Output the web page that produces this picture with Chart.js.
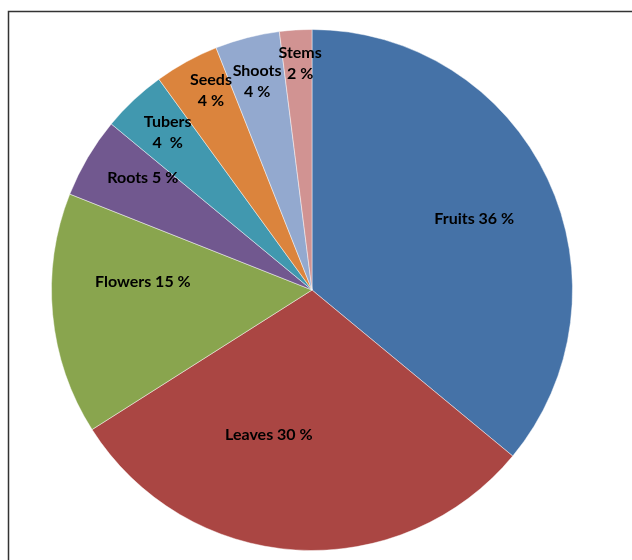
<!DOCTYPE html>
<html>
<head>
<meta charset="utf-8">
<script src="https://cdn.jsdelivr.net/npm/chart.js@4"></script>
<style>
  html, body { margin: 0; padding: 0; background: #fff; }
  #wrap { width: 632px; height: 560px; position: relative; }
</style>
</head>
<body>
<div id="wrap"><canvas id="myChart" width="632" height="560"></canvas></div>
<script>
const parts = ['Fruits', 'Leaves', 'Flowers', 'Roots', 'Tubers', 'Seeds', 'Shoots', 'Stems'];
const shares = [36, 30, 15, 5, 4, 4, 4, 2];
const sliceColors = ['#4572A7', '#AA4643', '#89A54E', '#71588F', '#4198AF', '#DB843D', '#93A9CF', '#D19392'];

// where each label sits: fraction of the radius, shift from the slice middle (degrees), two lines or one
const labelPlace = [
  [0.68, 1.5, false],
  [0.58, 13, false],
  [0.65, 8, false],
  [0.78, 3, false],
  [0.82, 0.7, true],
  [0.86, 2, true],
  [0.83, -0.3, true],
  [0.87, 0.6, true]
];

const frame = {
  id: 'frame',
  beforeDraw(chart) {
    const c = chart.ctx;
    c.save();
    c.strokeStyle = '#333';
    c.lineWidth = 1.5;
    c.strokeRect(8.5, 11.5, 700, 700);
    c.restore();
  }
};

const sliceLabels = {
  id: 'sliceLabels',
  afterDatasetsDraw(chart) {
    const c = chart.ctx;
    const arcs = chart.getDatasetMeta(0).data;
    c.save();
    c.font = 'bold 16px Lato, "Open Sans", sans-serif';
    c.fillStyle = '#000';
    c.textAlign = 'center';
    c.textBaseline = 'middle';
    arcs.forEach((arc, i) => {
      const p = arc.getProps(['x', 'y', 'startAngle', 'endAngle', 'outerRadius'], true);
      const [frac, shift, twoLines] = labelPlace[i];
      const mid = (p.startAngle + p.endAngle) / 2 + shift * Math.PI / 180;
      const r = p.outerRadius * frac;
      const x = p.x + Math.cos(mid) * r;
      const y = p.y + Math.sin(mid) * r;
      const pct = shares[i] + ' %';
      if (twoLines) {
        c.fillText(parts[i], x, y - 10.5);
        c.fillText(parts[i] === 'Tubers' ? shares[i] + '  %' : pct, x, y + 10.5);
      } else {
        c.fillText(parts[i] + ' ' + pct, x, y);
      }
    });
    c.restore();
  }
};

const data = {
  labels: parts,
  datasets: [{
    data: shares,
    backgroundColor: sliceColors,
    borderColor: 'rgba(255,255,255,0.45)',
    borderWidth: 1,
    hoverOffset: 0
  }]
};

const config = {
  type: 'pie',
  data: data,
  options: {
    responsive: false,
    animation: false,
    layout: { padding: { top: 29, bottom: 9, left: 0, right: 8 } },
    plugins: {
      legend: { display: false },
      tooltip: { enabled: false }
    }
  },
  plugins: [frame, sliceLabels]
};

let ctx = document.getElementById('myChart').getContext('2d');
let chart = new Chart(ctx, config);
</script>
</body>
</html>
